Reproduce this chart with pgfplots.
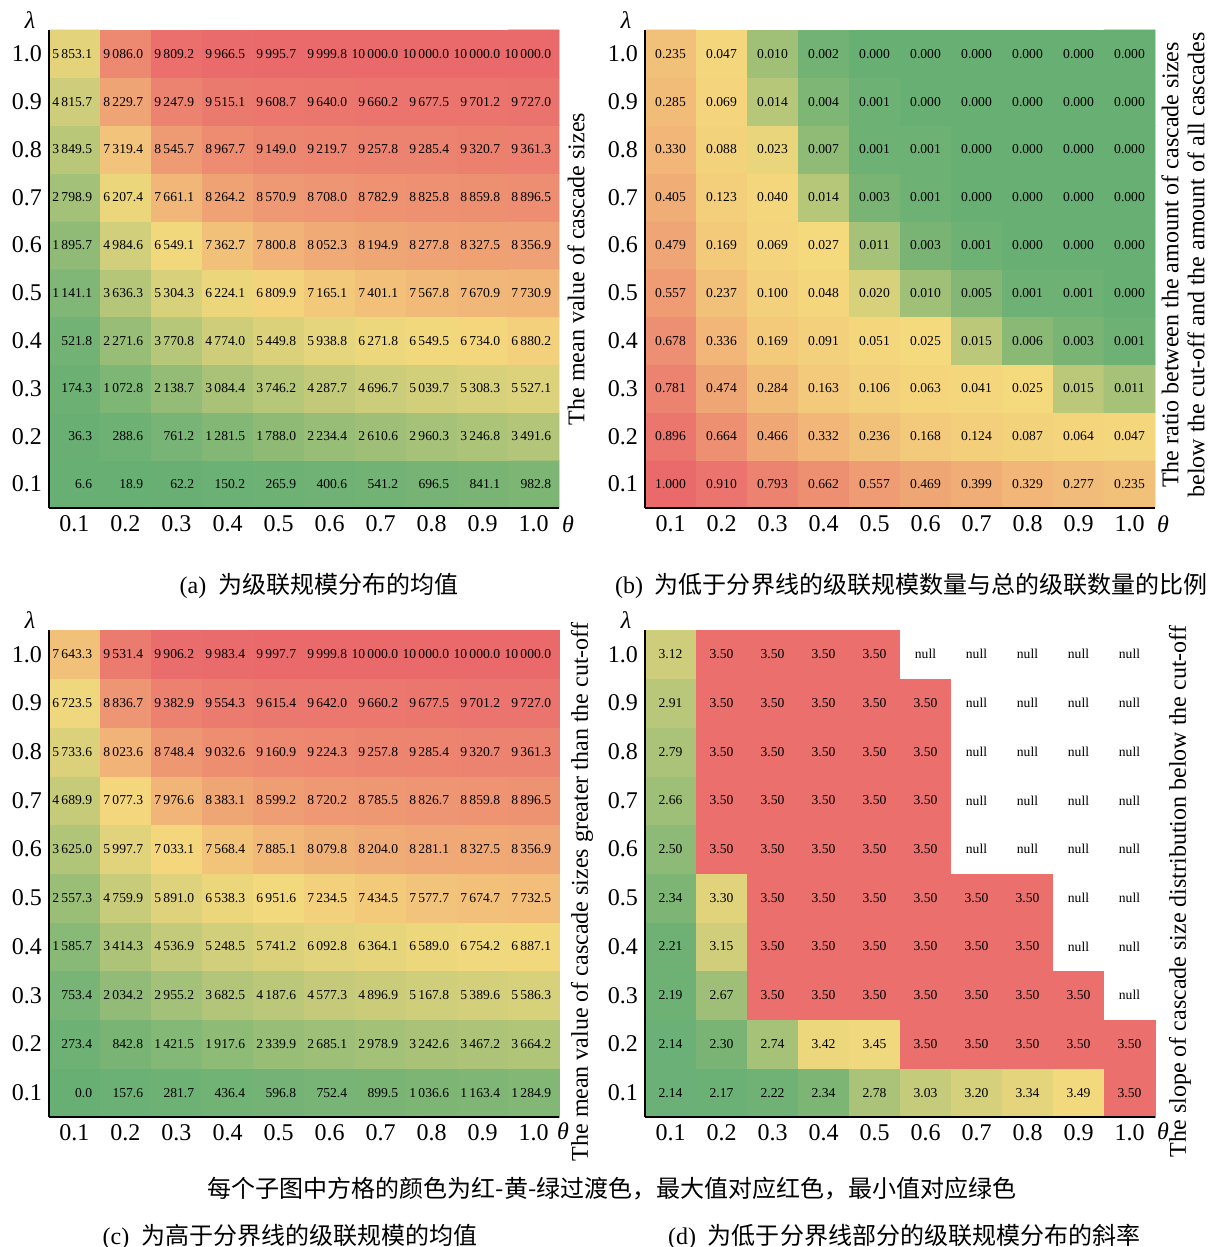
\documentclass[border=0pt]{standalone}
\usepackage{pgfplots}
\pgfplotsset{compat=1.18}
\usepackage{pgfplotstable}
\usepackage{fontspec}
\setmainfont{Liberation Serif}
\newfontfamily\cjk{Noto Sans CJK SC}
\usetikzlibrary{calc}

\pgfplotsset{
  colormap={cma}{rgb255(0cm)=(104,175,116); rgb255(6.6395cm)=(244,217,125); rgb255(10cm)=(234,106,108)},
  colormap={cmb}{rgb255(0cm)=(104,175,116); rgb255(0.25cm)=(244,217,125); rgb255(10cm)=(234,106,108)},
  colormap={cmc}{rgb255(0cm)=(104,175,116); rgb255(6.99235cm)=(244,217,125); rgb255(10cm)=(234,106,108)},
  colormap={cmd}{rgb255(0cm)=(255,255,255); rgb255(2.13cm)=(255,255,255); rgb255(2.14cm)=(104,175,116); rgb255(3.495cm)=(244,217,125); rgb255(3.5cm)=(234,106,108)},
  hm/.style={
    scale only axis, width=255pt, height=239pt,
    xmin=0.5, xmax=10.5, ymin=0.5, ymax=10.5,
    axis lines*=left,
    axis line style={line width=1.3pt, black},
    axis on top,
    xtick={1,...,10}, ytick={1,...,10},
    xticklabels={0.1,0.2,0.3,0.4,0.5,0.6,0.7,0.8,0.9,1.0},
    yticklabels={0.1,0.2,0.3,0.4,0.5,0.6,0.7,0.8,0.9,1.0},
    major tick length=0pt,
    tick label style={font=\fontsize{12}{14}\selectfont},
    clip=false,
    anchor=south west,
  },
  lbl/.style={only marks, mark=none, nodes near coords,
    every node near coord/.append style={font=\fontsize{6.8}{8}\selectfont, text=black, inner sep=0pt}},
}

% (a) mean value of cascade sizes; x = theta index, y = lambda index
\pgfplotstableread[row sep=\\]{
x y v\\
1 1 6.6\\ 2 1 18.9\\ 3 1 62.2\\ 4 1 150.2\\ 5 1 265.9\\ 6 1 400.6\\ 7 1 541.2\\ 8 1 696.5\\ 9 1 841.1\\ 10 1 982.8\\
1 2 36.3\\ 2 2 288.6\\ 3 2 761.2\\ 4 2 1281.5\\ 5 2 1788.0\\ 6 2 2234.4\\ 7 2 2610.6\\ 8 2 2960.3\\ 9 2 3246.8\\ 10 2 3491.6\\
1 3 174.3\\ 2 3 1072.8\\ 3 3 2138.7\\ 4 3 3084.4\\ 5 3 3746.2\\ 6 3 4287.7\\ 7 3 4696.7\\ 8 3 5039.7\\ 9 3 5308.3\\ 10 3 5527.1\\
1 4 521.8\\ 2 4 2271.6\\ 3 4 3770.8\\ 4 4 4774.0\\ 5 4 5449.8\\ 6 4 5938.8\\ 7 4 6271.8\\ 8 4 6549.5\\ 9 4 6734.0\\ 10 4 6880.2\\
1 5 1141.1\\ 2 5 3636.3\\ 3 5 5304.3\\ 4 5 6224.1\\ 5 5 6809.9\\ 6 5 7165.1\\ 7 5 7401.1\\ 8 5 7567.8\\ 9 5 7670.9\\ 10 5 7730.9\\
1 6 1895.7\\ 2 6 4984.6\\ 3 6 6549.1\\ 4 6 7362.7\\ 5 6 7800.8\\ 6 6 8052.3\\ 7 6 8194.9\\ 8 6 8277.8\\ 9 6 8327.5\\ 10 6 8356.9\\
1 7 2798.9\\ 2 7 6207.4\\ 3 7 7661.1\\ 4 7 8264.2\\ 5 7 8570.9\\ 6 7 8708.0\\ 7 7 8782.9\\ 8 7 8825.8\\ 9 7 8859.8\\ 10 7 8896.5\\
1 8 3849.5\\ 2 8 7319.4\\ 3 8 8545.7\\ 4 8 8967.7\\ 5 8 9149.0\\ 6 8 9219.7\\ 7 8 9257.8\\ 8 8 9285.4\\ 9 8 9320.7\\ 10 8 9361.3\\
1 9 4815.7\\ 2 9 8229.7\\ 3 9 9247.9\\ 4 9 9515.1\\ 5 9 9608.7\\ 6 9 9640.0\\ 7 9 9660.2\\ 8 9 9677.5\\ 9 9 9701.2\\ 10 9 9727.0\\
1 10 5853.1\\ 2 10 9086.0\\ 3 10 9809.2\\ 4 10 9966.5\\ 5 10 9995.7\\ 6 10 9999.8\\ 7 10 10000.0\\ 8 10 10000.0\\ 9 10 10000.0\\ 10 10 10000.0\\
}\ta

% (b) ratio below cut-off
\pgfplotstableread[row sep=\\]{
x y v\\
1 1 1.000\\ 2 1 0.910\\ 3 1 0.793\\ 4 1 0.662\\ 5 1 0.557\\ 6 1 0.469\\ 7 1 0.399\\ 8 1 0.329\\ 9 1 0.277\\ 10 1 0.235\\
1 2 0.896\\ 2 2 0.664\\ 3 2 0.466\\ 4 2 0.332\\ 5 2 0.236\\ 6 2 0.168\\ 7 2 0.124\\ 8 2 0.087\\ 9 2 0.064\\ 10 2 0.047\\
1 3 0.781\\ 2 3 0.474\\ 3 3 0.284\\ 4 3 0.163\\ 5 3 0.106\\ 6 3 0.063\\ 7 3 0.041\\ 8 3 0.025\\ 9 3 0.015\\ 10 3 0.011\\
1 4 0.678\\ 2 4 0.336\\ 3 4 0.169\\ 4 4 0.091\\ 5 4 0.051\\ 6 4 0.025\\ 7 4 0.015\\ 8 4 0.006\\ 9 4 0.003\\ 10 4 0.001\\
1 5 0.557\\ 2 5 0.237\\ 3 5 0.100\\ 4 5 0.048\\ 5 5 0.020\\ 6 5 0.010\\ 7 5 0.005\\ 8 5 0.001\\ 9 5 0.001\\ 10 5 0.000\\
1 6 0.479\\ 2 6 0.169\\ 3 6 0.069\\ 4 6 0.027\\ 5 6 0.011\\ 6 6 0.003\\ 7 6 0.001\\ 8 6 0.000\\ 9 6 0.000\\ 10 6 0.000\\
1 7 0.405\\ 2 7 0.123\\ 3 7 0.040\\ 4 7 0.014\\ 5 7 0.003\\ 6 7 0.001\\ 7 7 0.000\\ 8 7 0.000\\ 9 7 0.000\\ 10 7 0.000\\
1 8 0.330\\ 2 8 0.088\\ 3 8 0.023\\ 4 8 0.007\\ 5 8 0.001\\ 6 8 0.001\\ 7 8 0.000\\ 8 8 0.000\\ 9 8 0.000\\ 10 8 0.000\\
1 9 0.285\\ 2 9 0.069\\ 3 9 0.014\\ 4 9 0.004\\ 5 9 0.001\\ 6 9 0.000\\ 7 9 0.000\\ 8 9 0.000\\ 9 9 0.000\\ 10 9 0.000\\
1 10 0.235\\ 2 10 0.047\\ 3 10 0.010\\ 4 10 0.002\\ 5 10 0.000\\ 6 10 0.000\\ 7 10 0.000\\ 8 10 0.000\\ 9 10 0.000\\ 10 10 0.000\\
}\tb

% (c) mean value above cut-off
\pgfplotstableread[row sep=\\]{
x y v\\
1 1 0.0\\ 2 1 157.6\\ 3 1 281.7\\ 4 1 436.4\\ 5 1 596.8\\ 6 1 752.4\\ 7 1 899.5\\ 8 1 1036.6\\ 9 1 1163.4\\ 10 1 1284.9\\
1 2 273.4\\ 2 2 842.8\\ 3 2 1421.5\\ 4 2 1917.6\\ 5 2 2339.9\\ 6 2 2685.1\\ 7 2 2978.9\\ 8 2 3242.6\\ 9 2 3467.2\\ 10 2 3664.2\\
1 3 753.4\\ 2 3 2034.2\\ 3 3 2955.2\\ 4 3 3682.5\\ 5 3 4187.6\\ 6 3 4577.3\\ 7 3 4896.9\\ 8 3 5167.8\\ 9 3 5389.6\\ 10 3 5586.3\\
1 4 1585.7\\ 2 4 3414.3\\ 3 4 4536.9\\ 4 4 5248.5\\ 5 4 5741.2\\ 6 4 6092.8\\ 7 4 6364.1\\ 8 4 6589.0\\ 9 4 6754.2\\ 10 4 6887.1\\
1 5 2557.3\\ 2 5 4759.9\\ 3 5 5891.0\\ 4 5 6538.3\\ 5 5 6951.6\\ 6 5 7234.5\\ 7 5 7434.5\\ 8 5 7577.7\\ 9 5 7674.7\\ 10 5 7732.5\\
1 6 3625.0\\ 2 6 5997.7\\ 3 6 7033.1\\ 4 6 7568.4\\ 5 6 7885.1\\ 6 6 8079.8\\ 7 6 8204.0\\ 8 6 8281.1\\ 9 6 8327.5\\ 10 6 8356.9\\
1 7 4689.9\\ 2 7 7077.3\\ 3 7 7976.6\\ 4 7 8383.1\\ 5 7 8599.2\\ 6 7 8720.2\\ 7 7 8785.5\\ 8 7 8826.7\\ 9 7 8859.8\\ 10 7 8896.5\\
1 8 5733.6\\ 2 8 8023.6\\ 3 8 8748.4\\ 4 8 9032.6\\ 5 8 9160.9\\ 6 8 9224.3\\ 7 8 9257.8\\ 8 8 9285.4\\ 9 8 9320.7\\ 10 8 9361.3\\
1 9 6723.5\\ 2 9 8836.7\\ 3 9 9382.9\\ 4 9 9554.3\\ 5 9 9615.4\\ 6 9 9642.0\\ 7 9 9660.2\\ 8 9 9677.5\\ 9 9 9701.2\\ 10 9 9727.0\\
1 10 7643.3\\ 2 10 9531.4\\ 3 10 9906.2\\ 4 10 9983.4\\ 5 10 9997.7\\ 6 10 9999.8\\ 7 10 10000.0\\ 8 10 10000.0\\ 9 10 10000.0\\ 10 10 10000.0\\
}\tc

% (d) slope below cut-off; v=0 marks a null cell (drawn white)
\pgfplotstableread[row sep=\\]{
x y v t\\
1 1 2.14 2.14\\ 2 1 2.17 2.17\\ 3 1 2.22 2.22\\ 4 1 2.34 2.34\\ 5 1 2.78 2.78\\ 6 1 3.03 3.03\\ 7 1 3.20 3.20\\ 8 1 3.34 3.34\\ 9 1 3.49 3.49\\ 10 1 3.50 3.50\\
1 2 2.14 2.14\\ 2 2 2.30 2.30\\ 3 2 2.74 2.74\\ 4 2 3.42 3.42\\ 5 2 3.45 3.45\\ 6 2 3.50 3.50\\ 7 2 3.50 3.50\\ 8 2 3.50 3.50\\ 9 2 3.50 3.50\\ 10 2 3.50 3.50\\
1 3 2.19 2.19\\ 2 3 2.67 2.67\\ 3 3 3.50 3.50\\ 4 3 3.50 3.50\\ 5 3 3.50 3.50\\ 6 3 3.50 3.50\\ 7 3 3.50 3.50\\ 8 3 3.50 3.50\\ 9 3 3.50 3.50\\ 10 3 0 null\\
1 4 2.21 2.21\\ 2 4 3.15 3.15\\ 3 4 3.50 3.50\\ 4 4 3.50 3.50\\ 5 4 3.50 3.50\\ 6 4 3.50 3.50\\ 7 4 3.50 3.50\\ 8 4 3.50 3.50\\ 9 4 0 null\\ 10 4 0 null\\
1 5 2.34 2.34\\ 2 5 3.30 3.30\\ 3 5 3.50 3.50\\ 4 5 3.50 3.50\\ 5 5 3.50 3.50\\ 6 5 3.50 3.50\\ 7 5 3.50 3.50\\ 8 5 3.50 3.50\\ 9 5 0 null\\ 10 5 0 null\\
1 6 2.50 2.50\\ 2 6 3.50 3.50\\ 3 6 3.50 3.50\\ 4 6 3.50 3.50\\ 5 6 3.50 3.50\\ 6 6 3.50 3.50\\ 7 6 0 null\\ 8 6 0 null\\ 9 6 0 null\\ 10 6 0 null\\
1 7 2.66 2.66\\ 2 7 3.50 3.50\\ 3 7 3.50 3.50\\ 4 7 3.50 3.50\\ 5 7 3.50 3.50\\ 6 7 3.50 3.50\\ 7 7 0 null\\ 8 7 0 null\\ 9 7 0 null\\ 10 7 0 null\\
1 8 2.79 2.79\\ 2 8 3.50 3.50\\ 3 8 3.50 3.50\\ 4 8 3.50 3.50\\ 5 8 3.50 3.50\\ 6 8 3.50 3.50\\ 7 8 0 null\\ 8 8 0 null\\ 9 8 0 null\\ 10 8 0 null\\
1 9 2.91 2.91\\ 2 9 3.50 3.50\\ 3 9 3.50 3.50\\ 4 9 3.50 3.50\\ 5 9 3.50 3.50\\ 6 9 3.50 3.50\\ 7 9 0 null\\ 8 9 0 null\\ 9 9 0 null\\ 10 9 0 null\\
1 10 3.12 3.12\\ 2 10 3.50 3.50\\ 3 10 3.50 3.50\\ 4 10 3.50 3.50\\ 5 10 3.50 3.50\\ 6 10 0 null\\ 7 10 0 null\\ 8 10 0 null\\ 9 10 0 null\\ 10 10 0 null\\
}\td

\begin{document}
\begin{tikzpicture}
\path[use as bounding box] (0,0) rectangle (604pt,623.5pt);

% ---------- (a)
\begin{axis}[hm, at={(24.5pt,369.5pt)},
  colormap name=cma, point meta min=6.6, point meta max=10000,
  /pgf/number format/fixed, /pgf/number format/fixed zerofill,
  /pgf/number format/precision=1, /pgf/number format/1000 sep={\,},
  /pgf/number format/assume math mode=true]
\addplot[matrix plot*, mesh/cols=10, point meta=explicit] table[x=x,y=y,meta=v]{\ta};
\addplot[lbl, point meta=explicit, nodes near coords align=east,
  every node near coord/.append style={xshift=9pt}] table[x=x,y=y,meta=v]{\ta};
\node[font=\fontsize{12}{14}\selectfont] at ($(rel axis cs:0,1)+(-9.5pt,5pt)$) {\textit{λ}};
\node[font=\fontsize{12}{14}\selectfont] at ($(rel axis cs:1,0)+(4.5pt,-8pt)$) {\textit{θ}};
\node[rotate=90, font=\fontsize{12}{14}\selectfont] at ($(rel axis cs:1,0.5)+(8.5pt,0pt)$) {The mean value of cascade sizes};
\end{axis}

% ---------- (b)
\begin{axis}[hm, at={(322.5pt,369.5pt)},
  colormap name=cmb, point meta min=0, point meta max=1,
  /pgf/number format/fixed, /pgf/number format/fixed zerofill,
  /pgf/number format/precision=3,
  /pgf/number format/assume math mode=true]
\addplot[matrix plot*, mesh/cols=10, point meta=explicit] table[x=x,y=y,meta=v]{\tb};
\addplot[lbl, point meta=explicit, nodes near coords align=center] table[x=x,y=y,meta=v]{\tb};
\node[font=\fontsize{12}{14}\selectfont] at ($(rel axis cs:0,1)+(-9.5pt,5pt)$) {\textit{λ}};
\node[font=\fontsize{12}{14}\selectfont] at ($(rel axis cs:1,0)+(4pt,-8pt)$) {\textit{θ}};
\node[rotate=90, align=center, font=\fontsize{12}{13}\selectfont] at ($(rel axis cs:1,0.5)+(14pt,2pt)$) {The ratio between the amount of cascade sizes\\below the cut-off and the amount of all cascades};
\end{axis}

% ---------- (c)
\begin{axis}[hm, at={(24.5pt,65pt)}, height=243.5pt,
  colormap name=cmc, point meta min=0, point meta max=10000,
  /pgf/number format/fixed, /pgf/number format/fixed zerofill,
  /pgf/number format/precision=1, /pgf/number format/1000 sep={\,},
  /pgf/number format/assume math mode=true]
\addplot[matrix plot*, mesh/cols=10, point meta=explicit] table[x=x,y=y,meta=v]{\tc};
\addplot[lbl, point meta=explicit, nodes near coords align=east,
  every node near coord/.append style={xshift=9pt}] table[x=x,y=y,meta=v]{\tc};
\node[font=\fontsize{12}{14}\selectfont] at ($(rel axis cs:0,1)+(-9.5pt,5pt)$) {\textit{λ}};
\node[font=\fontsize{12}{14}\selectfont] at ($(rel axis cs:1,0)+(2pt,-7pt)$) {\textit{θ}};
\node[rotate=90, font=\fontsize{12}{14}\selectfont] at ($(rel axis cs:1,0.5)+(11.5pt,-9.25pt)$) {The mean value of cascade sizes greater than the cut-off};
\end{axis}

% ---------- (d)
\begin{axis}[hm, at={(322.5pt,65pt)}, height=243.5pt,
  colormap name=cmd, point meta min=0, point meta max=3.5]
\addplot[matrix plot*, mesh/cols=10, point meta=explicit] table[x=x,y=y,meta=v]{\td};
\addplot[lbl, point meta=explicit symbolic, nodes near coords align=center] table[x=x,y=y,meta=t]{\td};
\node[font=\fontsize{12}{14}\selectfont] at ($(rel axis cs:0,1)+(-9.5pt,5pt)$) {\textit{λ}};
\node[font=\fontsize{12}{14}\selectfont] at ($(rel axis cs:1,0)+(4pt,-7pt)$) {\textit{θ}};
\node[rotate=90, font=\fontsize{12}{14}\selectfont] at ($(rel axis cs:1,0.5)+(12.5pt,-9pt)$) {The slope of cascade size distribution below the cut-off};
\end{axis}

% ---------- captions
\node[font=\fontsize{12}{14}\selectfont] at (159.5pt,330.5pt) {(a)\enspace{\cjk 为级联规模分布的均值}};
\node[font=\fontsize{12}{14}\selectfont] at (455.5pt,330.5pt) {(b)\enspace{\cjk 为低于分界线的级联规模数量与总的级联数量的比例}};
\node[font=\fontsize{12}{14}\selectfont] at (306pt,29pt) {\cjk 每个子图中方格的颜色为红-黄-绿过渡色，最大值对应红色，最小值对应绿色};
\node[font=\fontsize{12}{14}\selectfont] at (145pt,5pt) {(c)\enspace{\cjk 为高于分界线的级联规模的均值}};
\node[font=\fontsize{12}{14}\selectfont] at (452pt,5pt) {(d)\enspace{\cjk 为低于分界线部分的级联规模分布的斜率}};
\end{tikzpicture}
\end{document}
